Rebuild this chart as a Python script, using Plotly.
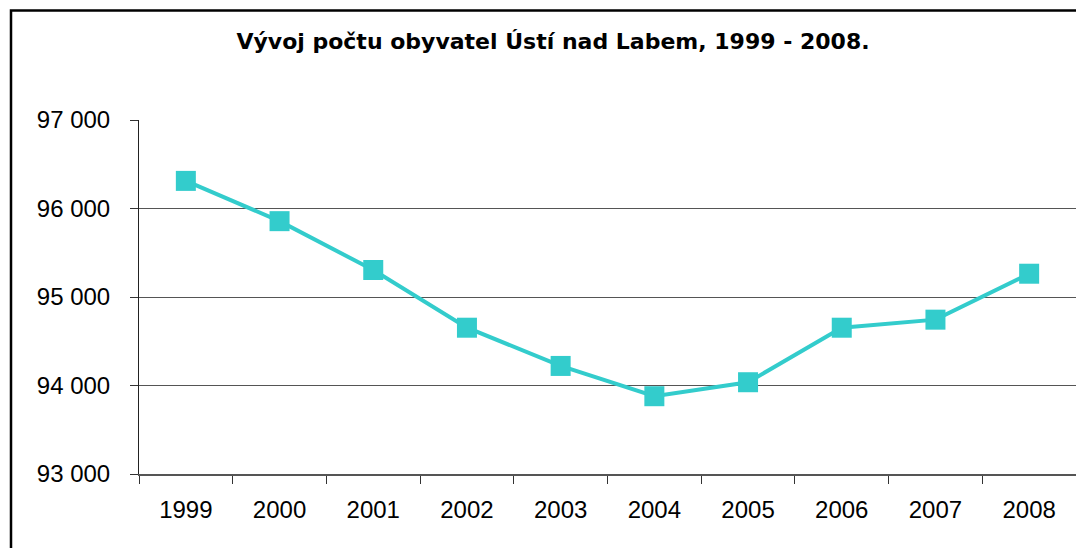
import plotly.graph_objects as go

years = ["1999", "2000", "2001", "2002", "2003", "2004", "2005", "2006", "2007", "2008"]
population = [96312, 95857, 95305, 94653, 94221, 93879, 94037, 94653, 94744, 95263]
y_ticks = [93000, 94000, 95000, 96000, 97000]
title_text = "Vývoj počtu obyvatel Ústí nad Labem, 1999 - 2008."

# page has an 8px body margin, so figure coords = page coords - 8
OFF = 8
W, H = 1084 - OFF, 548 - OFF
ML, MR, MT, MB = 131, 8, 112, 74
PW, PH = W - ML - MR, H - MT - MB

fig = go.Figure()
fig.add_trace(go.Scatter(
    x=years, y=population, mode="lines+markers",
    line=dict(color="#33CCCC", width=4),
    marker=dict(symbol="square", size=20, color="#33CCCC"),
    showlegend=False,
))

fig.update_layout(
    width=W, height=H,
    margin=dict(l=ML, r=MR, t=MT, b=MB),
    paper_bgcolor="white", plot_bgcolor="white",
    separators=", ",
    font=dict(family="Liberation Sans, Arial, sans-serif", color="black", size=24),
    title=dict(text="<b>" + title_text + "</b>", x=(553 - OFF) / W, xanchor="center",
               y=1 - (41 - OFF) / H, yanchor="middle",
               font=dict(family="DejaVu Sans, sans-serif", size=22, color="black")),
    xaxis=dict(type="category", range=[-0.5, 9.5], tickson="boundaries",
               ticks="outside", ticklen=8, tickcolor="#333", tickwidth=1,
               showline=True, linecolor="#555", linewidth=1.5,
               showgrid=False, ticklabelstandoff=13, fixedrange=True),
    yaxis=dict(range=[93000, 97000], tickvals=y_ticks, tickformat=",.0f",
               ticks="outside", ticklen=8, tickcolor="#333", tickwidth=1,
               showline=True, linecolor="#222", linewidth=1,
               showgrid=True, gridcolor="#555", gridwidth=1,
               zeroline=False, ticklabelstandoff=15, fixedrange=True),
    shapes=[dict(type="rect", xref="paper", yref="paper",
                 x0=(11 - OFF - ML) / PW, x1=(W + 20 - ML) / PW,
                 y0=-(H + 20 - MT - PH) / PH, y1=(H - MB - (10.5 - OFF)) / PH,
                 line=dict(color="black", width=2.5), fillcolor="rgba(0,0,0,0)",
                 layer="above")],
)

fig.write_html("out.html")
